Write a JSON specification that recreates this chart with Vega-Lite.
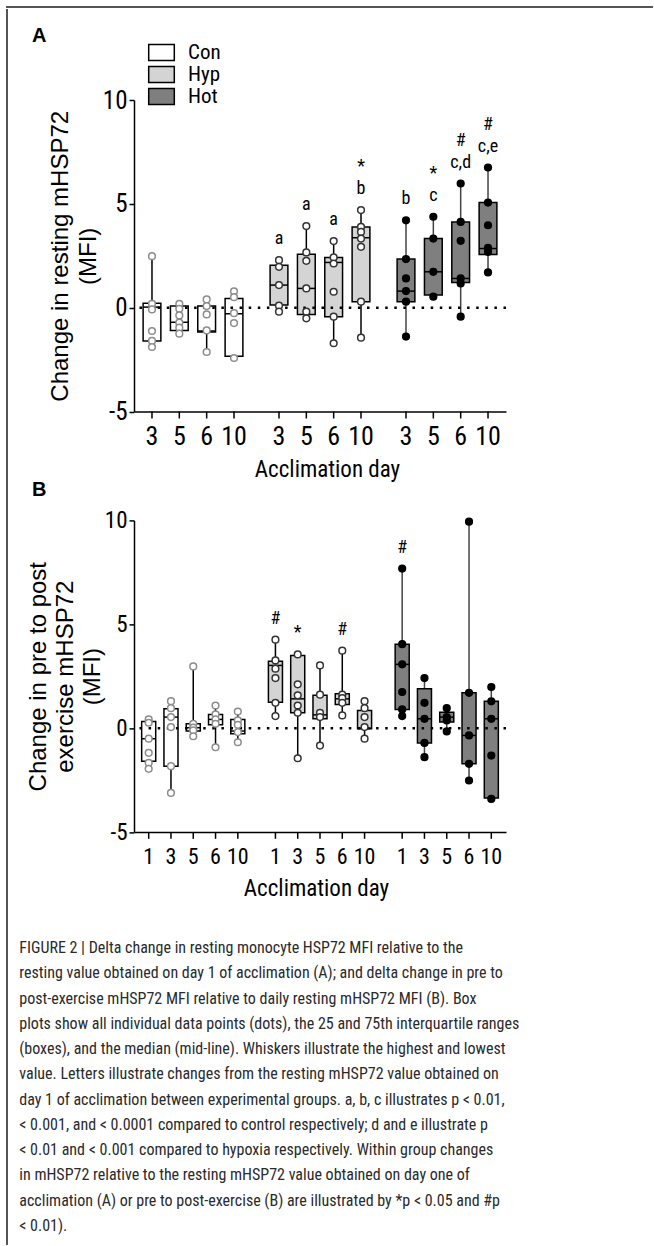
{
  "$schema": "https://vega.github.io/schema/vega-lite/v6.json",
  "padding": {"left": 6, "top": 6, "right": 0, "bottom": 0},
  "config": {
    "view": {"stroke": null},
    "axis": {"grid": false},
    "font": "Roboto Condensed"
  },
  "datasets": {
    "boxA": [
      {"group": "Con", "day": 3, "min": -1.92, "q1": -1.6, "median": 0.03, "q3": 0.21, "max": 2.48},
      {"group": "Con", "day": 5, "min": -1.28, "q1": -1.09, "median": -0.7, "q3": 0.08, "max": 0.22},
      {"group": "Con", "day": 6, "min": -2.13, "q1": -1.17, "median": -1.12, "q3": 0.08, "max": 0.4},
      {"group": "Con", "day": 10, "min": -2.42, "q1": -2.34, "median": -0.29, "q3": 0.45, "max": 0.79},
      {"group": "Hyp", "day": 3, "min": -0.19, "q1": 0.13, "median": 1.09, "q3": 2.05, "max": 2.29, "sig": "a"},
      {"group": "Hyp", "day": 5, "min": -0.51, "q1": -0.32, "median": 0.93, "q3": 2.58, "max": 3.93, "sig": "a"},
      {"group": "Hyp", "day": 6, "min": -1.71, "q1": -0.43, "median": 2.18, "q3": 2.42, "max": 3.21, "sig": "a"},
      {"group": "Hyp", "day": 10, "min": -1.44, "q1": 0.29, "median": 3.37, "q3": 3.89, "max": 4.7, "sig": "b", "sig2": "*"},
      {"group": "Hot", "day": 3, "min": -1.39, "q1": 0.29, "median": 0.8, "q3": 2.34, "max": 4.21, "sig": "b"},
      {"group": "Hot", "day": 5, "min": 0.48, "q1": 0.61, "median": 1.73, "q3": 3.33, "max": 4.38, "sig": "c", "sig2": "*"},
      {"group": "Hot", "day": 6, "min": -0.43, "q1": 1.22, "median": 1.41, "q3": 4.13, "max": 5.98, "sig": "c,d", "sig2": "#"},
      {"group": "Hot", "day": 10, "min": 1.7, "q1": 2.56, "median": 2.85, "q3": 5.06, "max": 6.75, "sig": "c,e", "sig2": "#"}
    ],
    "ptsA": [
      {"group": "Con", "day": 3, "value": 2.48}, {"group": "Con", "day": 3, "value": 0.19}, {"group": "Con", "day": 3, "value": -0.08}, {"group": "Con", "day": 3, "value": -1.12}, {"group": "Con", "day": 3, "value": -1.6}, {"group": "Con", "day": 3, "value": -1.89},
      {"group": "Con", "day": 5, "value": 0.19}, {"group": "Con", "day": 5, "value": -0.05}, {"group": "Con", "day": 5, "value": -0.37}, {"group": "Con", "day": 5, "value": -0.72}, {"group": "Con", "day": 5, "value": -0.96}, {"group": "Con", "day": 5, "value": -1.25},
      {"group": "Con", "day": 6, "value": 0.4}, {"group": "Con", "day": 6, "value": 0.08}, {"group": "Con", "day": 6, "value": -0.32}, {"group": "Con", "day": 6, "value": -1.09}, {"group": "Con", "day": 6, "value": -2.13},
      {"group": "Con", "day": 10, "value": 0.79}, {"group": "Con", "day": 10, "value": 0.51}, {"group": "Con", "day": 10, "value": -0.26}, {"group": "Con", "day": 10, "value": -0.74}, {"group": "Con", "day": 10, "value": -2.42},
      {"group": "Hyp", "day": 3, "value": 2.29}, {"group": "Hyp", "day": 3, "value": 1.97}, {"group": "Hyp", "day": 3, "value": 1.09}, {"group": "Hyp", "day": 3, "value": 0.1}, {"group": "Hyp", "day": 3, "value": -0.19},
      {"group": "Hyp", "day": 5, "value": 3.93}, {"group": "Hyp", "day": 5, "value": 2.66}, {"group": "Hyp", "day": 5, "value": 2.26}, {"group": "Hyp", "day": 5, "value": 0.93}, {"group": "Hyp", "day": 5, "value": -0.19}, {"group": "Hyp", "day": 5, "value": -0.51},
      {"group": "Hyp", "day": 6, "value": 3.21}, {"group": "Hyp", "day": 6, "value": 2.42}, {"group": "Hyp", "day": 6, "value": 2.13}, {"group": "Hyp", "day": 6, "value": 0.77}, {"group": "Hyp", "day": 6, "value": -0.43}, {"group": "Hyp", "day": 6, "value": -1.71},
      {"group": "Hyp", "day": 10, "value": 4.7}, {"group": "Hyp", "day": 10, "value": 3.89}, {"group": "Hyp", "day": 10, "value": 3.65}, {"group": "Hyp", "day": 10, "value": 3.33}, {"group": "Hyp", "day": 10, "value": 2.93}, {"group": "Hyp", "day": 10, "value": 0.29}, {"group": "Hyp", "day": 10, "value": -1.44},
      {"group": "Hot", "day": 3, "value": 4.21}, {"group": "Hot", "day": 3, "value": 2.34}, {"group": "Hot", "day": 3, "value": 1.41}, {"group": "Hot", "day": 3, "value": 0.8}, {"group": "Hot", "day": 3, "value": 0.29}, {"group": "Hot", "day": 3, "value": -1.39},
      {"group": "Hot", "day": 5, "value": 4.38}, {"group": "Hot", "day": 5, "value": 3.33}, {"group": "Hot", "day": 5, "value": 1.73}, {"group": "Hot", "day": 5, "value": 0.53},
      {"group": "Hot", "day": 6, "value": 5.98}, {"group": "Hot", "day": 6, "value": 4.13}, {"group": "Hot", "day": 6, "value": 3.22}, {"group": "Hot", "day": 6, "value": 1.41}, {"group": "Hot", "day": 6, "value": 1.17}, {"group": "Hot", "day": 6, "value": -0.43},
      {"group": "Hot", "day": 10, "value": 6.75}, {"group": "Hot", "day": 10, "value": 5.06}, {"group": "Hot", "day": 10, "value": 3.97}, {"group": "Hot", "day": 10, "value": 2.88}, {"group": "Hot", "day": 10, "value": 2.69}, {"group": "Hot", "day": 10, "value": 1.7}
    ],
    "boxB": [
      {"group": "Con", "day": 1, "min": -1.96, "q1": -1.59, "median": -0.51, "q3": 0.32, "max": 0.42},
      {"group": "Con", "day": 3, "min": -3.12, "q1": -1.83, "median": 0.53, "q3": 0.93, "max": 1.3},
      {"group": "Con", "day": 5, "min": -0.43, "q1": -0.14, "median": 0.02, "q3": 0.21, "max": 2.97},
      {"group": "Con", "day": 6, "min": -0.92, "q1": 0.16, "median": 0.42, "q3": 0.66, "max": 1.09},
      {"group": "Con", "day": 10, "min": -0.68, "q1": -0.27, "median": -0.14, "q3": 0.42, "max": 0.8},
      {"group": "Hyp", "day": 1, "min": 0.58, "q1": 1.25, "median": 3.02, "q3": 3.22, "max": 4.26, "sig": "#"},
      {"group": "Hyp", "day": 3, "min": -1.45, "q1": 0.74, "median": 1.41, "q3": 3.5, "max": 3.55, "sig": "*"},
      {"group": "Hyp", "day": 5, "min": -0.84, "q1": 0.45, "median": 0.64, "q3": 1.58, "max": 3.02},
      {"group": "Hyp", "day": 6, "min": 0.61, "q1": 1.14, "median": 1.41, "q3": 1.66, "max": 3.73, "sig": "#"},
      {"group": "Hyp", "day": 10, "min": -0.51, "q1": -0.03, "median": 0.0, "q3": 0.85, "max": 1.3},
      {"group": "Hot", "day": 1, "min": 0.58, "q1": 0.9, "median": 3.07, "q3": 4.04, "max": 7.68, "sig": "#"},
      {"group": "Hot", "day": 3, "min": -1.4, "q1": -0.71, "median": 0.45, "q3": 1.9, "max": 2.41},
      {"group": "Hot", "day": 5, "min": -0.16, "q1": 0.29, "median": 0.53, "q3": 0.77, "max": 0.96},
      {"group": "Hot", "day": 6, "min": -2.52, "q1": -1.72, "median": -0.35, "q3": 1.7, "max": 9.94},
      {"group": "Hot", "day": 10, "min": -3.41, "q1": -3.36, "median": 0.45, "q3": 1.29, "max": 1.98}
    ],
    "ptsB": [
      {"group": "Con", "day": 1, "value": 0.42}, {"group": "Con", "day": 1, "value": 0.26}, {"group": "Con", "day": 1, "value": -0.51}, {"group": "Con", "day": 1, "value": -1.19}, {"group": "Con", "day": 1, "value": -1.67}, {"group": "Con", "day": 1, "value": -1.96},
      {"group": "Con", "day": 3, "value": 1.3}, {"group": "Con", "day": 3, "value": 0.96}, {"group": "Con", "day": 3, "value": 0.53}, {"group": "Con", "day": 3, "value": 0.05}, {"group": "Con", "day": 3, "value": -1.83}, {"group": "Con", "day": 3, "value": -3.12},
      {"group": "Con", "day": 5, "value": 2.97}, {"group": "Con", "day": 5, "value": 0.21}, {"group": "Con", "day": 5, "value": 0.02}, {"group": "Con", "day": 5, "value": -0.11}, {"group": "Con", "day": 5, "value": -0.39},
      {"group": "Con", "day": 6, "value": 1.09}, {"group": "Con", "day": 6, "value": 0.66}, {"group": "Con", "day": 6, "value": 0.42}, {"group": "Con", "day": 6, "value": 0.21}, {"group": "Con", "day": 6, "value": -0.92},
      {"group": "Con", "day": 10, "value": 0.8}, {"group": "Con", "day": 10, "value": 0.37}, {"group": "Con", "day": 10, "value": 0.16}, {"group": "Con", "day": 10, "value": -0.19}, {"group": "Con", "day": 10, "value": -0.68},
      {"group": "Hyp", "day": 1, "value": 4.26}, {"group": "Hyp", "day": 1, "value": 3.26}, {"group": "Hyp", "day": 1, "value": 2.86}, {"group": "Hyp", "day": 1, "value": 2.41}, {"group": "Hyp", "day": 1, "value": 1.22}, {"group": "Hyp", "day": 1, "value": 0.58},
      {"group": "Hyp", "day": 3, "value": 3.55}, {"group": "Hyp", "day": 3, "value": 2.11}, {"group": "Hyp", "day": 3, "value": 1.58}, {"group": "Hyp", "day": 3, "value": 1.09}, {"group": "Hyp", "day": 3, "value": 0.74}, {"group": "Hyp", "day": 3, "value": -1.45},
      {"group": "Hyp", "day": 5, "value": 3.02}, {"group": "Hyp", "day": 5, "value": 1.61}, {"group": "Hyp", "day": 5, "value": 0.74}, {"group": "Hyp", "day": 5, "value": 0.53}, {"group": "Hyp", "day": 5, "value": -0.84},
      {"group": "Hyp", "day": 6, "value": 3.73}, {"group": "Hyp", "day": 6, "value": 1.61}, {"group": "Hyp", "day": 6, "value": 1.45}, {"group": "Hyp", "day": 6, "value": 1.22}, {"group": "Hyp", "day": 6, "value": 0.61},
      {"group": "Hyp", "day": 10, "value": 1.3}, {"group": "Hyp", "day": 10, "value": 0.96}, {"group": "Hyp", "day": 10, "value": 0.53}, {"group": "Hyp", "day": 10, "value": 0.05}, {"group": "Hyp", "day": 10, "value": -0.51},
      {"group": "Hot", "day": 1, "value": 7.68}, {"group": "Hot", "day": 1, "value": 4.04}, {"group": "Hot", "day": 1, "value": 3.07}, {"group": "Hot", "day": 1, "value": 1.74}, {"group": "Hot", "day": 1, "value": 0.9}, {"group": "Hot", "day": 1, "value": 0.58},
      {"group": "Hot", "day": 3, "value": 2.41}, {"group": "Hot", "day": 3, "value": 1.22}, {"group": "Hot", "day": 3, "value": 0.45}, {"group": "Hot", "day": 3, "value": -0.71}, {"group": "Hot", "day": 3, "value": -1.4},
      {"group": "Hot", "day": 5, "value": 0.96}, {"group": "Hot", "day": 5, "value": 0.53}, {"group": "Hot", "day": 5, "value": 0.37}, {"group": "Hot", "day": 5, "value": -0.16},
      {"group": "Hot", "day": 6, "value": 9.94}, {"group": "Hot", "day": 6, "value": 1.7}, {"group": "Hot", "day": 6, "value": -0.35}, {"group": "Hot", "day": 6, "value": -1.72}, {"group": "Hot", "day": 6, "value": -2.52},
      {"group": "Hot", "day": 10, "value": 1.98}, {"group": "Hot", "day": 10, "value": 1.29}, {"group": "Hot", "day": 10, "value": 0.45}, {"group": "Hot", "day": 10, "value": -1.32}, {"group": "Hot", "day": 10, "value": -3.41}
    ]
  },
  "vconcat": [
    {"width": 645, "height": 0.001, "data": {"values": []}, "mark": "point", "view": {"stroke": "#555", "strokeWidth": 2}},
    {
      "hconcat": [
        {"width": 0.001, "height": 1234, "data": {"values": []}, "mark": "point", "view": {"stroke": "#555", "strokeWidth": 2}},
        {
          "spacing": 0,
          "vconcat": [
            {"width": 10, "height": 15, "data": {"values": []}, "mark": "point", "view": {"fill": "white", "stroke": "white"}},
            {
              "title": {
                "text": [
                  "FIGURE 2 | Delta change in resting monocyte HSP72 MFI relative to the",
                  "resting value obtained on day 1 of acclimation (A); and delta change in pre to",
                  "post-exercise mHSP72 MFI relative to daily resting mHSP72 MFI (B). Box",
                  "plots show all individual data points (dots), the 25 and 75th interquartile ranges",
                  "(boxes), and the median (mid-line). Whiskers illustrate the highest and lowest",
                  "value. Letters illustrate changes from the resting mHSP72 value obtained on",
                  "day 1 of acclimation between experimental groups. a, b, c illustrates p < 0.01,",
                  "< 0.001, and < 0.0001 compared to control respectively; d and e illustrate p",
                  "< 0.01 and < 0.001 compared to hypoxia respectively. Within group changes",
                  "in mHSP72 relative to the resting mHSP72 value obtained on day one of",
                  "acclimation (A) or pre to post-exercise (B) are illustrated by *p < 0.05 and #p",
                  "< 0.01)."
                ],
                "orient": "bottom", "anchor": "start", "frame": "bounds", "dx": -7, "offset": 40,
                "fontSize": 16, "font": "Roboto Condensed", "fontWeight": "normal", "color": "#2a2a2a", "lineHeight": 25.25
              },
              "bounds": "flush",
              "spacing": 108.4,
              "resolve": {"scale": {"x": "independent", "xOffset": "independent", "y": "independent", "fill": "independent"}, "legend": {"fill": "independent"}},
              "vconcat": [
                {
                  "title": {"text": "A", "anchor": "start", "frame": "group", "dx": -102, "offset": -4, "fontSize": 20, "fontWeight": "bold", "font": "Liberation Sans", "color": "black"},
                  "width": 372, "height": 311.6,
                  "layer": [
                    {"data": {"name": "boxA"}, "mark": {"type": "rule", "strokeWidth": 1.5},
                     "encoding": {
                       "x": {"field": "group", "type": "nominal", "scale": {"domain": ["Con", "Hyp", "Hot"], "paddingInner": 0.139, "paddingOuter": 0.034},
                             "axis": {"labels": false, "ticks": false, "domain": true, "domainColor": "black", "domainWidth": 1.5, "title": "Acclimation day", "titleFont": "Roboto Condensed", "titleFontSize": 23, "titleFontWeight": "normal", "titleColor": "black", "titlePadding": 47, "titleX": 193}},
                       "xOffset": {"field": "day", "type": "ordinal", "scale": {"paddingInner": 0.35, "paddingOuter": 0.175}},
                       "y": {"field": "min", "type": "quantitative", "scale": {"domain": [-5, 10], "nice": false, "zero": false},
                             "axis": {"values": [-5, 0, 5, 10], "labelExpr": "'' + datum.value", "title": ["Change in resting  mHSP72", "(MFI)"], "titleFont": "Liberation Sans", "titleFontSize": 24, "titleFontWeight": "normal", "titleColor": "black", "titleLineHeight": 28, "titlePadding": 2,
                                      "labelFont": "Roboto Condensed", "labelFontSize": 25, "labelColor": "black", "labelPadding": 2, "tickSize": 5, "tickWidth": 1.5, "tickColor": "black", "domainColor": "black", "domainWidth": 1.5}},
                       "y2": {"field": "max"},
                       "color": {"condition": {"test": "datum.group === 'Hot'", "value": "#444"}, "value": "black"}
                     }},
                    {"data": {"name": "boxA"}, "mark": {"type": "bar", "stroke": "black", "strokeWidth": 1.5},
                     "encoding": {
                       "x": {"field": "group", "type": "nominal"},
                       "xOffset": {"field": "day", "type": "ordinal"},
                       "y": {"field": "q1", "type": "quantitative"},
                       "y2": {"field": "q3"},
                       "fill": {"field": "group", "type": "nominal", "scale": {"domain": ["Con", "Hyp", "Hot"], "range": ["#ffffff", "#d4d4d4", "#7f7f7f"]},
                                "legend": {"orient": "none", "legendX": 17, "legendY": -58, "title": null, "symbolType": "M-1.6,-1H1.6V1H-1.6Z", "symbolSize": 256, "symbolStrokeColor": "black", "symbolStrokeWidth": 1.5, "symbolOpacity": 1,
                                           "labelFont": "Roboto Condensed", "labelFontSize": 21, "labelColor": "black", "labelOffset": 16, "rowPadding": -1}}
                     }},
                    {"data": {"name": "boxA"}, "mark": {"type": "tick", "color": "black", "thickness": 1.5, "size": 18, "opacity": 1},
                     "encoding": {
                       "x": {"field": "group", "type": "nominal"},
                       "xOffset": {"field": "day", "type": "ordinal"},
                       "y": {"field": "median", "type": "quantitative"}
                     }},
                    {"data": {"values": [{}]}, "mark": {"type": "rule", "color": "black", "strokeWidth": 2.5, "strokeDash": [2.5, 6.6]},
                     "encoding": {"y": {"datum": 0}}},
                    {"data": {"name": "ptsA"}, "mark": {"type": "circle", "size": 45, "strokeWidth": 1.5, "opacity": 1},
                     "encoding": {
                       "x": {"field": "group", "type": "nominal"},
                       "xOffset": {"field": "day", "type": "ordinal"},
                       "y": {"field": "value", "type": "quantitative"},
                       "fill": {"condition": {"test": "datum.group === 'Hot'", "value": "black"}, "value": "white"},
                       "stroke": {"condition": [{"test": "datum.group === 'Con'", "value": "#8c8c8c"}, {"test": "datum.group === 'Hyp'", "value": "#333333"}], "value": "black"}
                     }},
                    {"data": {"name": "boxA"}, "transform": [{"filter": "datum.sig"}],
                     "mark": {"type": "text", "baseline": "bottom", "dy": -12, "fontSize": 18, "font": "Roboto Condensed", "color": "black"},
                     "encoding": {
                       "x": {"field": "group", "type": "nominal"},
                       "xOffset": {"field": "day", "type": "ordinal"},
                       "y": {"field": "max", "type": "quantitative"},
                       "text": {"field": "sig"}
                     }},
                    {"data": {"name": "boxA"}, "transform": [{"filter": "datum.sig2"}],
                     "mark": {"type": "text", "baseline": "bottom", "dy": -34, "fontSize": 18, "font": "Roboto Condensed", "color": "black"},
                     "encoding": {
                       "x": {"field": "group", "type": "nominal"},
                       "xOffset": {"field": "day", "type": "ordinal"},
                       "y": {"field": "max", "type": "quantitative"},
                       "text": {"field": "sig2"}
                     }},
                    {"data": {"name": "boxA"}, "mark": {"type": "rule", "color": "black", "strokeWidth": 1.5},
                     "encoding": {
                       "x": {"field": "group", "type": "nominal"},
                       "xOffset": {"field": "day", "type": "ordinal"},
                       "y": {"datum": -5},
                       "y2": {"datum": -5.33}
                     }},
                    {"data": {"name": "boxA"}, "mark": {"type": "text", "baseline": "top", "dy": 12, "fontSize": 26, "font": "Roboto Condensed", "color": "black"},
                     "encoding": {
                       "x": {"field": "group", "type": "nominal"},
                       "xOffset": {"field": "day", "type": "ordinal"},
                       "y": {"datum": -5},
                       "text": {"field": "day"}
                     }}
                  ]
                },
                {
                  "title": {"text": "B", "anchor": "start", "frame": "group", "dx": -102, "offset": 9, "fontSize": 20, "fontWeight": "bold", "font": "Liberation Sans", "color": "black"},
                  "width": 372, "height": 311.6,
                  "layer": [
                    {"data": {"name": "boxB"}, "mark": {"type": "rule", "strokeWidth": 1.5},
                     "encoding": {
                       "x": {"field": "group", "type": "nominal", "scale": {"domain": ["Con", "Hyp", "Hot"], "paddingInner": 0.121, "paddingOuter": 0.028},
                             "axis": {"labels": false, "ticks": false, "domain": true, "domainColor": "black", "domainWidth": 1.5, "title": "Acclimation day", "titleFont": "Roboto Condensed", "titleFontSize": 23, "titleFontWeight": "normal", "titleColor": "black", "titlePadding": 45, "titleX": 182}},
                       "xOffset": {"field": "day", "type": "ordinal", "scale": {"paddingInner": 0.37, "paddingOuter": 0.185}},
                       "y": {"field": "min", "type": "quantitative", "scale": {"domain": [-5, 10], "nice": false, "zero": false},
                             "axis": {"values": [-5, 0, 5, 10], "labelExpr": "'' + datum.value", "title": ["Change in pre to post", "exercise mHSP72", "(MFI)"], "titleFont": "Liberation Sans", "titleFontSize": 24, "titleFontWeight": "normal", "titleColor": "black", "titleLineHeight": 27, "titlePadding": 0,
                                      "labelFont": "Roboto Condensed", "labelFontSize": 23, "labelColor": "black", "labelPadding": 2, "tickSize": 5, "tickWidth": 1.5, "tickColor": "black", "domainColor": "black", "domainWidth": 1.5}},
                       "y2": {"field": "max"},
                       "color": {"condition": {"test": "datum.group === 'Hot'", "value": "#444"}, "value": "black"}
                     }},
                    {"data": {"name": "boxB"}, "mark": {"type": "bar", "stroke": "black", "strokeWidth": 1.5},
                     "encoding": {
                       "x": {"field": "group", "type": "nominal"},
                       "xOffset": {"field": "day", "type": "ordinal"},
                       "y": {"field": "q1", "type": "quantitative"},
                       "y2": {"field": "q3"},
                       "fill": {"field": "group", "type": "nominal", "scale": {"domain": ["Con", "Hyp", "Hot"], "range": ["#ffffff", "#d4d4d4", "#7f7f7f"]}, "legend": null}
                     }},
                    {"data": {"name": "boxB"}, "mark": {"type": "tick", "color": "black", "thickness": 1.5, "size": 14, "opacity": 1},
                     "encoding": {
                       "x": {"field": "group", "type": "nominal"},
                       "xOffset": {"field": "day", "type": "ordinal"},
                       "y": {"field": "median", "type": "quantitative"}
                     }},
                    {"data": {"values": [{}]}, "mark": {"type": "rule", "color": "black", "strokeWidth": 2.5, "strokeDash": [2.5, 6.6]},
                     "encoding": {"y": {"datum": 0}}},
                    {"data": {"name": "ptsB"}, "mark": {"type": "circle", "size": 45, "strokeWidth": 1.5, "opacity": 1},
                     "encoding": {
                       "x": {"field": "group", "type": "nominal"},
                       "xOffset": {"field": "day", "type": "ordinal"},
                       "y": {"field": "value", "type": "quantitative"},
                       "fill": {"condition": {"test": "datum.group === 'Hot'", "value": "black"}, "value": "white"},
                       "stroke": {"condition": [{"test": "datum.group === 'Con'", "value": "#8c8c8c"}, {"test": "datum.group === 'Hyp'", "value": "#333333"}], "value": "black"}
                     }},
                    {"data": {"name": "boxB"}, "transform": [{"filter": "datum.sig"}],
                     "mark": {"type": "text", "baseline": "bottom", "dy": -12, "fontSize": 18, "font": "Roboto Condensed", "color": "black"},
                     "encoding": {
                       "x": {"field": "group", "type": "nominal"},
                       "xOffset": {"field": "day", "type": "ordinal"},
                       "y": {"field": "max", "type": "quantitative"},
                       "text": {"field": "sig"}
                     }},
                    {"data": {"name": "boxB"}, "mark": {"type": "rule", "color": "black", "strokeWidth": 1.5},
                     "encoding": {
                       "x": {"field": "group", "type": "nominal"},
                       "xOffset": {"field": "day", "type": "ordinal"},
                       "y": {"datum": -5},
                       "y2": {"datum": -5.33}
                     }},
                    {"data": {"name": "boxB"}, "mark": {"type": "text", "baseline": "top", "dy": 15, "fontSize": 22, "font": "Roboto Condensed", "color": "black"},
                     "encoding": {
                       "x": {"field": "group", "type": "nominal"},
                       "xOffset": {"field": "day", "type": "ordinal"},
                       "y": {"datum": -5},
                       "text": {"field": "day"}
                     }}
                  ]
                }
              ]
            }
          ]
        }
      ],
      "spacing": 10,
      "align": "none"
    }
  ],
  "spacing": 0,
  "align": "none"
}
